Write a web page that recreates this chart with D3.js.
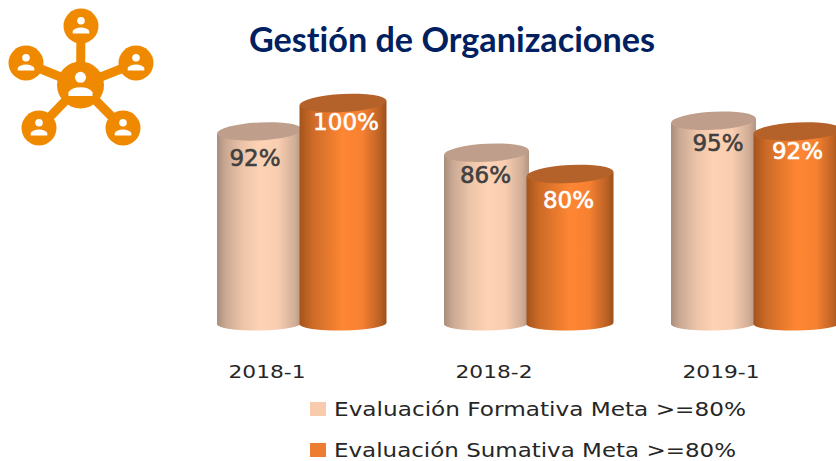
<!DOCTYPE html>
<html><head><meta charset="utf-8">
<script src="https://cdn.jsdelivr.net/npm/d3@7"></script>
<style>html,body{margin:0;background:#fff}svg{display:block}</style></head>
<body><svg id="c" width="836" height="461"></svg>
<script>
const title = "Gestión de Organizaciones";
const categories = ["2018-1","2018-2","2019-1"];
const seriesNames = ["Evaluación Formativa Meta >=80%","Evaluación Sumativa Meta >=80%"];
const formativa = [92,86,95];
const sumativa = [100,80,92];
const seriesColors = ["#f8cbad","#ed7d31"];
// hand placement of the value labels, as in the source slide
const labelDx = [[-4.5,-1,4.5],[3,-1.5,0.5]];
const labelDy = [[35,30,30],[26.5,33.5,28]];

const svg = d3.select("#c");
const defs = svg.append("defs");
const addGrad=(id,stops)=>{const g=defs.append("linearGradient").attr("id",id);
  stops.forEach(([o,c])=>g.append("stop").attr("offset",o).attr("stop-color",c));};
addGrad("g0",[[0,"#a88d7b"],[.1,"#c9a893"],[.3,"#ecc4a8"],[.5,"#fdd2b5"],[.72,"#f8cdb0"],[.92,"#d0ad96"],[1,"#b09583"]]);
addGrad("g1",[[0,"#a4541c"],[.15,"#cc6b27"],[.5,"#ff8633"],[.72,"#f68131"],[.92,"#bd6225"],[1,"#9c5019"]]);

const x = d3.scaleBand().domain(categories).range([189,870]);
const y = d3.scaleLinear().domain([80,100]).range([174,103]);
const baseY = 323.5, ryTop = 9, ryBase = 7, tilt = 2.2;
const offs = [[28,85],[110.5,87]];
const tops = ["#bf9f8c","#b5622a"];
const labelCols = ["#404040","#ffffff"];

[formativa,sumativa].forEach((vals,s)=>{
  const g = svg.append("g");
  const w = offs[s][1];
  const bar = g.selectAll("g").data(vals).join("g")
    .attr("transform",(d,i)=>`translate(${x(categories[i])+offs[s][0]},0)`);
  bar.append("path").attr("fill",`url(#g${s})`)
    .attr("d",d=>`M0,${y(d)+tilt}L0,${baseY+.7}A${w/2},${ryBase} -1 0 0 ${w},${baseY-.7}L${w},${y(d)-tilt}Z`);
  bar.append("ellipse").attr("cx",w/2).attr("cy",d=>y(d)).attr("rx",w/2).attr("ry",ryTop)
    .attr("transform",d=>`rotate(-3 ${w/2} ${y(d)})`).attr("fill",tops[s]);
  bar.append("text").attr("x",(d,i)=>w/2+labelDx[s][i]).attr("y",(d,i)=>y(d)+labelDy[s][i])
    .attr("text-anchor","middle").attr("font-family","DejaVu Sans")
    .attr("font-size",23).attr("fill",labelCols[s]).attr("stroke",labelCols[s]).attr("stroke-width",.6)
    .text(d=>d+"%");
});

const axisG = svg.append("g").attr("transform","translate(0,378)");
axisG.selectAll("text").data(categories).join("text")
  .attr("x",d=>x(d)+78).attr("text-anchor","middle")
  .attr("font-family","DejaVu Sans").attr("font-size",18.5).attr("fill","#262626")
  .attr("textLength",77).attr("lengthAdjust","spacingAndGlyphs").text(d=>d);

const leg = svg.append("g").selectAll("g").data(seriesNames).join("g")
  .attr("transform",(d,i)=>`translate(310,${402+i*41})`);
leg.append("rect").attr("width",16).attr("height",14).attr("fill",(d,i)=>seriesColors[i]);
leg.append("text").attr("x",24).attr("y",14).attr("font-family","DejaVu Sans").attr("font-size",19.5)
  .attr("fill","#262626").attr("textLength",(d,i)=>[412,402][i]).attr("lengthAdjust","spacingAndGlyphs").text(d=>d);

svg.append("text").attr("x",452).attr("y",52).attr("text-anchor","middle")
  .attr("font-family","Lato").attr("font-weight",700).attr("font-size",34)
  .style("font-variant-ligatures","none")
  .attr("fill","#002060").attr("textLength",406).attr("lengthAdjust","spacingAndGlyphs").text(title);

// icon
const iconColor = "#ef8a00";
const icon = svg.append("g").attr("fill",iconColor);
const center=[80.5,85];
const nodes=[[81,26],[26,63],[136,63],[39,128],[123,128]];
icon.selectAll("line").data(nodes).join("line")
  .attr("x1",center[0]).attr("y1",center[1]).attr("x2",d=>d[0]).attr("y2",d=>d[1])
  .attr("stroke",iconColor).attr("stroke-width",9);
const person=(cx,cy,r,k)=>{
  icon.append("circle").attr("cx",cx).attr("cy",cy).attr("r",r);
  icon.append("circle").attr("cx",cx).attr("cy",cy-5.3*k).attr("r",3.8*k).attr("fill","#fff");
  icon.append("path").attr("fill","#fff")
    .attr("d",`M${cx-8.3*k},${cy+7.5*k}L${cx-8.3*k},${cy+5*k}Q${cx-6*k},${cy+1.5*k} ${cx},${cy+1.5*k}Q${cx+6*k},${cy+1.5*k} ${cx+8.3*k},${cy+5*k}L${cx+8.3*k},${cy+7.5*k}Z`);
};
person(center[0],center[1],23.5,1.45);
nodes.forEach(n=>person(n[0],n[1],17.5,1));
</script></body></html>
